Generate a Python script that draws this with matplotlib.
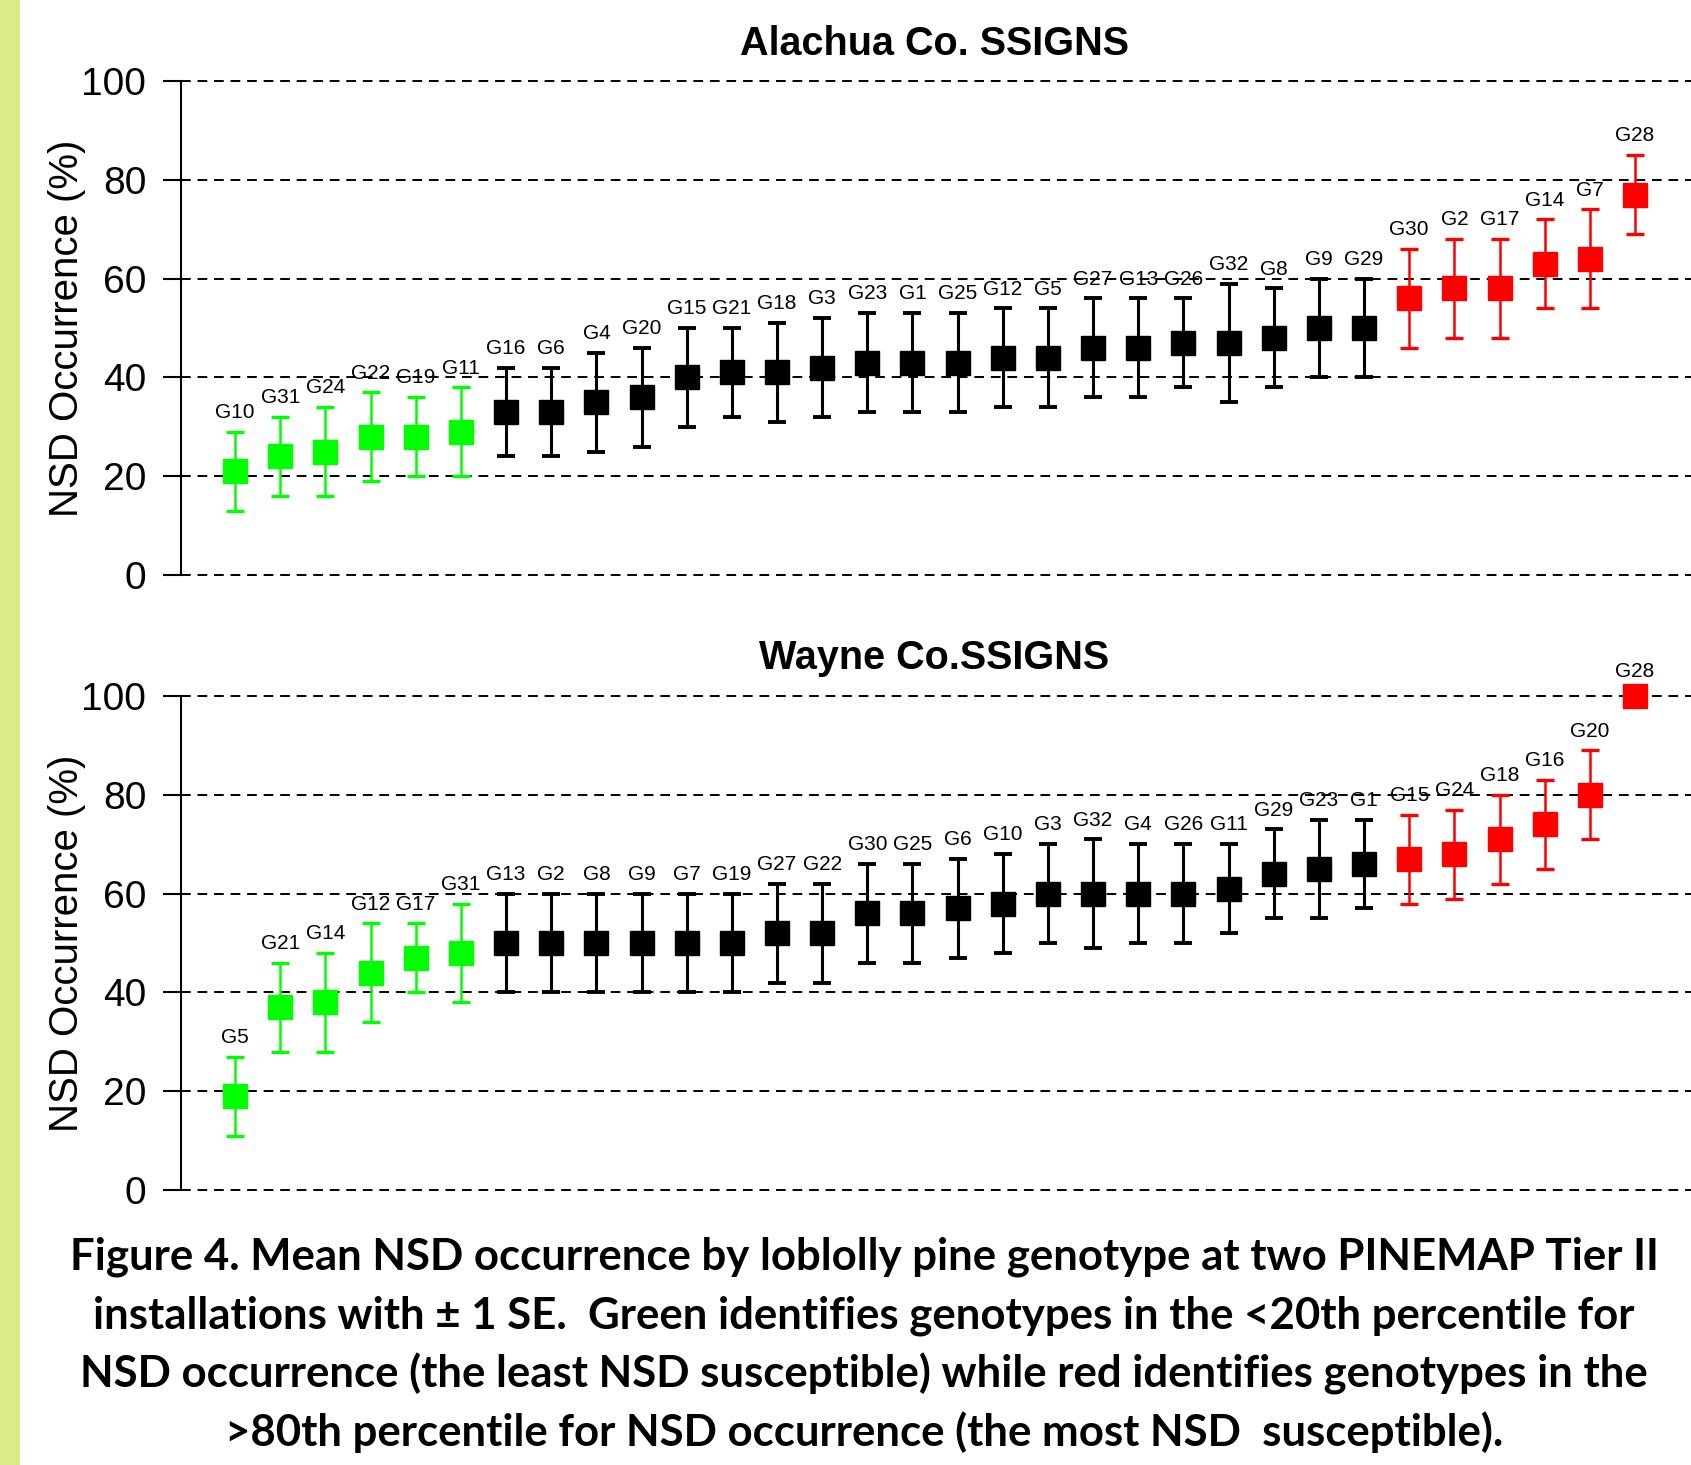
import matplotlib.pyplot as plt
import matplotlib.patches as patches

# Alachua Co. (top panel), sorted by mean occurrence
alachua_labels = ['G10', 'G31', 'G24', 'G22', 'G19', 'G11', 'G16', 'G6', 'G4', 'G20',
                  'G15', 'G21', 'G18', 'G3', 'G23', 'G1', 'G25', 'G12', 'G5', 'G27',
                  'G13', 'G26', 'G32', 'G8', 'G9', 'G29', 'G30', 'G2', 'G17', 'G14',
                  'G7', 'G28']
alachua_mean = [21, 24, 25, 28, 28, 29, 33, 33, 35, 36,
                40, 41, 41, 42, 43, 43, 43, 44, 44, 46,
                46, 47, 47, 48, 50, 50, 56, 58, 58, 63,
                64, 77]
alachua_se = [8, 8, 9, 9, 8, 9, 9, 9, 10, 10,
              10, 9, 10, 10, 10, 10, 10, 10, 10, 10,
              10, 9, 12, 10, 10, 10, 10, 10, 10, 9,
              10, 8]
alachua_group = ['low'] * 6 + ['mid'] * 20 + ['high'] * 6

# Wayne Co. (bottom panel)
wayne_labels = ['G5', 'G21', 'G14', 'G12', 'G17', 'G31', 'G13', 'G2', 'G8', 'G9',
                'G7', 'G19', 'G27', 'G22', 'G30', 'G25', 'G6', 'G10', 'G3', 'G32',
                'G4', 'G26', 'G11', 'G29', 'G23', 'G1', 'G15', 'G24', 'G18', 'G16',
                'G20', 'G28']
wayne_mean = [19, 37, 38, 44, 47, 48, 50, 50, 50, 50,
              50, 50, 52, 52, 56, 56, 57, 58, 60, 60,
              60, 60, 61, 64, 65, 66, 67, 68, 71, 74,
              80, 100]
wayne_se = [8, 9, 10, 10, 7, 10, 10, 10, 10, 10,
            10, 10, 10, 10, 10, 10, 10, 10, 10, 11,
            10, 10, 9, 9, 10, 9, 9, 9, 9, 9,
            9, 0]
wayne_group = ['low'] * 6 + ['mid'] * 20 + ['high'] * 6

yticks = [0, 20, 40, 60, 80, 100]
colors = {'low': '#00ff00', 'mid': 'black', 'high': '#ff0000'}

caption = [
    "Figure 4. Mean NSD occurrence by loblolly pine genotype at two PINEMAP Tier II",
    "installations with \u00b1 1 SE.  Green identifies genotypes in the <20th percentile for",
    "NSD occurrence (the least NSD susceptible) while red identifies genotypes in the",
    ">80th percentile for NSD occurrence (the most NSD  susceptible).",
]

SANS = ['Liberation Sans', 'DejaVu Sans']


def draw_panel(ax, labels, means, ses, groups):
    for i, (lab, m, se, g) in enumerate(zip(labels, means, ses, groups)):
        c = colors[g]
        lw = 2.2 if g == 'mid' else 1.8
        if se > 0:
            ax.errorbar(i, m, yerr=se, fmt='none', ecolor=c, elinewidth=lw,
                        capsize=6.8, capthick=lw + 0.6, clip_on=False, zorder=3)
        ax.plot(i, m, marker='s', ms=17.5, color=c, mec=c, ls='none',
                clip_on=False, zorder=4)
        off = 7 if se > 0 else 11
        ax.annotate(lab, xy=(i, m + se), xytext=(0, off), textcoords='offset points',
                    ha='center', va='bottom', fontsize=15, family=SANS,
                    color='black', annotation_clip=False)

    for y in yticks:
        ax.axhline(y, color='black', lw=1.4, ls=(0, (5, 3.5)), clip_on=False, zorder=1)

    ax.set_ylim(0, 100)
    ax.set_xlim(-1.2, 32.24)
    ax.set_yticks(yticks)
    ax.set_xticks([])
    for s in ['top', 'right', 'bottom']:
        ax.spines[s].set_visible(False)
    ax.spines['left'].set_linewidth(1.5)
    ax.tick_params(axis='y', length=13, width=1.5, pad=12, labelsize=28)
    for t in ax.get_yticklabels():
        t.set_family(SANS)
    ax.set_ylabel('NSD Occurrence (%)', fontsize=29, family=SANS)
    ax.yaxis.set_label_coords(-0.0627, 0.5)


fig = plt.figure(figsize=(16.91, 14.65), dpi=100)

# green strip at the left edge
fig.patches.append(patches.Rectangle((0, 0), 19 / 1691, 1, transform=fig.transFigure,
                                     color='#d9ec85', zorder=0))

ax1 = fig.add_axes([0.1070, 0.6075, 0.893, 0.3372])
ax2 = fig.add_axes([0.1070, 0.1877, 0.893, 0.3372])

draw_panel(ax1, alachua_labels, alachua_mean, alachua_se, alachua_group)
draw_panel(ax2, wayne_labels, wayne_mean, wayne_se, wayne_group)

fig.text(934 / 1691, 1 - 44 / 1465, 'Alachua Co. SSIGNS', ha='center', va='center',
         fontsize=28.5, fontweight='bold', family=SANS)
fig.text(934 / 1691, 1 - 658 / 1465, 'Wayne Co.SSIGNS', ha='center', va='center',
         fontsize=28.5, fontweight='bold', family=SANS)

# caption
cap_y = [1257, 1316, 1374, 1432]
for line, y in zip(caption, cap_y):
    fig.text(864 / 1691, 1 - y / 1465, line, ha='center', va='center', fontsize=31.5,
             fontweight='bold', family=['Lato', 'DejaVu Sans'])

plt.savefig('out.png', dpi=100)
plt.close()
